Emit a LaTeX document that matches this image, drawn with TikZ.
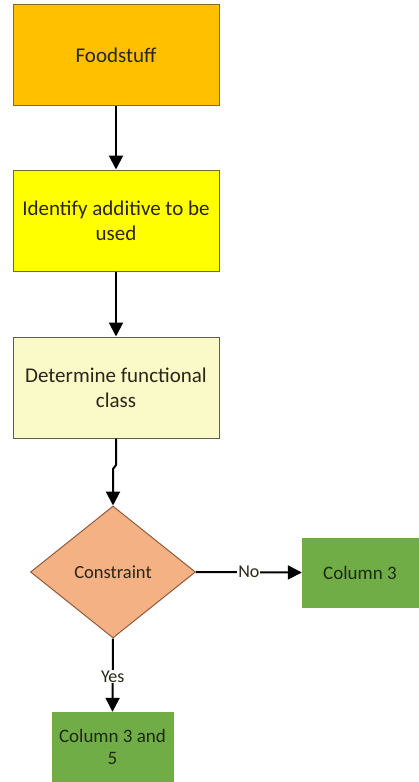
\documentclass[tikz,border=0pt]{standalone}
\usepackage{fontspec}
\setmainfont{Carlito}
\usetikzlibrary{arrows.meta,shapes.geometric}

\definecolor{foodfill}{HTML}{FFC000}
\definecolor{foodline}{HTML}{7F6A2A}
\definecolor{idfill}{HTML}{FFFF00}
\definecolor{idline}{HTML}{6B6B30}
\definecolor{detfill}{HTML}{FAFAC8}
\definecolor{detline}{HTML}{5E5E50}
\definecolor{consfill}{HTML}{F4B183}
\definecolor{consline}{HTML}{8E5A3C}
\definecolor{colfill}{HTML}{70AD47}
\definecolor{txtdark}{HTML}{2A2618}
\definecolor{txtgreen}{HTML}{1C2A12}

\tikzset{
  stepbox/.style={draw, line width=1pt, minimum width=206pt, minimum height=101pt,
    inner sep=4pt, align=center, font=\fontsize{21}{25}\selectfont,
    text=txtdark},
  decision/.style={diamond, draw=consline, fill=consfill, line width=1pt,
    minimum width=165pt, minimum height=132pt, inner sep=0pt, aspect=1.25,
    font=\fontsize{18.5}{22}\selectfont, text=txtdark},
  resultbox/.style={fill=colfill, draw=colfill, inner sep=2pt, align=center,
    font=\fontsize{19}{22}\selectfont, text=txtgreen},
  flow/.style={draw=black, line width=2pt, -{Triangle[width=14pt,length=14pt]}},
  edgelabel/.style={fill=white, inner sep=1pt, font=\fontsize{18}{20}\selectfont, text=txtdark}
}

\begin{document}
\begin{tikzpicture}[x=1pt,y=1pt]
  \useasboundingbox (0,0) rectangle (418,-782);

  % process steps
  \node[stepbox, draw=foodline, fill=foodfill] (food) at (116,-55) {Foodstuff};
  \node[stepbox, draw=idline, fill=idfill] (ident) at (116,-220.5) {Identify additive to be\\used};
  \node[stepbox, draw=detline, fill=detfill] (det) at (116,-387.5) {Determine functional\\class};

  % decision
  \node[decision] (cons) at (113,-572) {Constraint};

  % outcomes
  \node[resultbox, minimum width=116pt, minimum height=69pt] (col3) at (360,-572.5) {Column 3};
  \node[resultbox, minimum width=121pt, minimum height=69pt] (col35) at (112.5,-746.5) {Column 3 and\\5};

  % connectors
  \draw[flow] (food.south) -- (ident.north);
  \draw[flow] (ident.south) -- (det.north);
  \coordinate (jogA) at (116,-465);
  \coordinate (jogB) at (113,-469);
  \draw[flow] (det.south) -- (jogA) -- (jogB) -- (cons.north);
  \draw[flow] (cons.east) -- node[edgelabel, pos=0.5] {No} (col3.west);
  \draw[flow] (cons.south) -- node[edgelabel, pos=0.52] {Yes} (col35.north);
\end{tikzpicture}
\end{document}
